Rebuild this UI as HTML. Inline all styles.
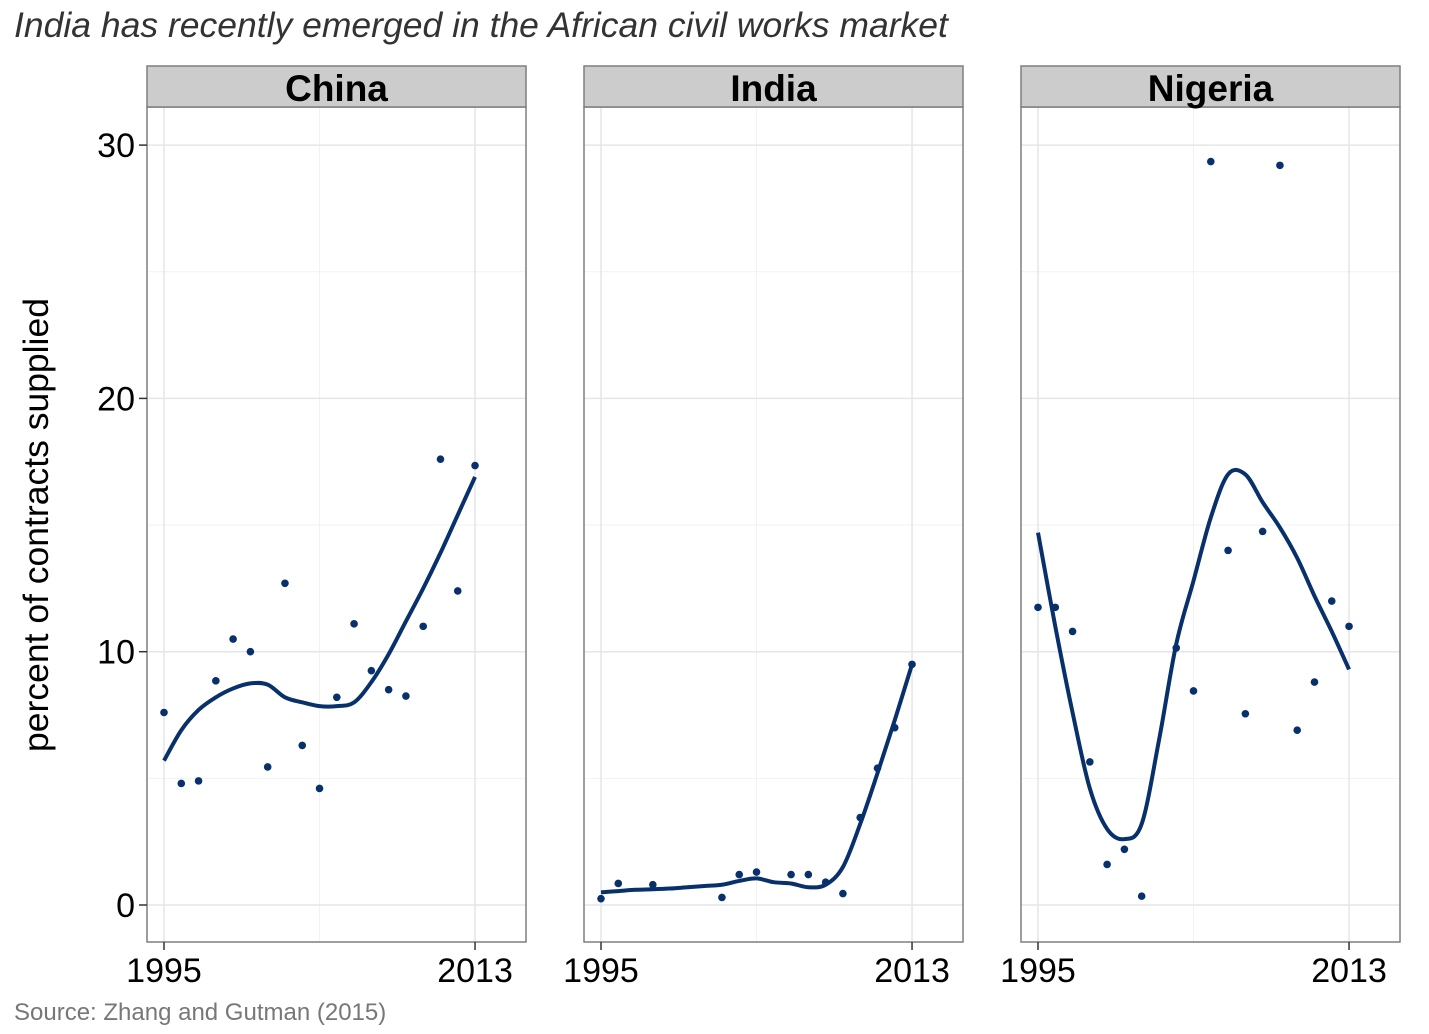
<!DOCTYPE html>
<html><head><meta charset="utf-8"><style>
body{margin:0;background:#fff;}
svg text{font-family:"Liberation Sans",Arial,sans-serif;}
</style></head><body>
<svg id="chart" width="1429" height="1029" xmlns="http://www.w3.org/2000/svg">
<text x="14" y="37" font-size="35.5" font-style="italic" fill="#333">India has recently emerged in the African civil works market</text>
<text x="14" y="1020" font-size="24" fill="#777">Source: Zhang and Gutman (2015)</text>
<text transform="translate(48,525) rotate(-90)" text-anchor="middle" font-size="35.5" fill="#000">percent of contracts supplied</text>
<g id="panels"></g>
</svg>
<script>
const panelNames = ["China","India","Nigeria"];
const chinaYears = [1995,1996,1997,1998,1999,2000,2001,2002,2003,2004,2005,2006,2007,2008,2009,2010,2011,2012,2013];
const chinaValues = [7.6,4.8,4.9,8.85,10.5,10.0,5.45,12.7,6.3,4.6,8.2,11.1,9.25,8.5,8.25,11.0,17.6,12.4,17.35];
const indiaYears = [1995,1996,1998,2002,2003,2004,2006,2007,2008,2009,2010,2011,2012,2013];
const indiaValues = [0.25,0.85,0.8,0.3,1.2,1.3,1.2,1.2,0.9,0.45,3.45,5.4,7.0,9.5];
const nigeriaYears = [1995,1996,1997,1998,1999,2000,2001,2003,2004,2005,2006,2007,2008,2009,2010,2011,2012,2013];
const nigeriaValues = [11.75,11.75,10.8,5.65,1.6,2.2,0.35,10.15,8.45,29.35,14.0,7.55,14.75,29.2,6.9,8.8,12.0,11.0];
const smoothYears = [1995,1996,1997,1998,1999,2000,2001,2002,2003,2004,2005,2006,2007,2008,2009,2010,2011,2012,2013];
const chinaSmooth = [5.7,6.9,7.7,8.2,8.55,8.75,8.7,8.2,8.0,7.85,7.85,8.0,8.8,9.9,11.2,12.5,13.9,15.4,16.9];
const indiaSmooth = [0.5,0.55,0.6,0.62,0.65,0.7,0.75,0.8,0.95,1.05,0.9,0.85,0.7,0.8,1.5,3.2,5.2,7.3,9.5];
const nigeriaSmooth = [14.7,11.0,7.6,4.6,3.0,2.6,3.2,6.5,10.3,12.8,15.3,17.0,17.0,15.9,14.9,13.7,12.2,10.8,9.3];
const yTicks = [0,10,20,30];
const xTickLabels = [1995,2013];

const pointSets=[[chinaYears,chinaValues],[indiaYears,indiaValues],[nigeriaYears,nigeriaValues]];
const smoothSets=[chinaSmooth,indiaSmooth,nigeriaSmooth];
const panelLefts=[147,584,1021];
const NS="http://www.w3.org/2000/svg";
const g=document.getElementById("panels");
function mk(tag,attrs,parent){const e=document.createElementNS(NS,tag);for(const k in attrs)e.setAttribute(k,attrs[k]);(parent||g).appendChild(e);return e;}
const yScale=v=>905-v*25.33;
const W=379, topY=107, bottomY=942;
panelNames.forEach((name,i)=>{
  const L=panelLefts[i];
  const xScale=yr=>L+17+(yr-1995)*17.28;
  const pg=mk("g",{});
  
  
  mk("rect",{x:L,y:topY,width:W,height:bottomY-topY,fill:"#fff"},pg);
  [5,15,25].forEach(v=>mk("line",{x1:L,x2:L+W,y1:yScale(v),y2:yScale(v),stroke:"#f2f2f2","stroke-width":1},pg));
  mk("line",{x1:xScale(2004),x2:xScale(2004),y1:topY,y2:bottomY,stroke:"#f2f2f2","stroke-width":1},pg);
  yTicks.forEach(v=>mk("line",{x1:L,x2:L+W,y1:yScale(v),y2:yScale(v),stroke:"#e6e6e6","stroke-width":1.5},pg));
  xTickLabels.forEach(yr=>mk("line",{x1:xScale(yr),x2:xScale(yr),y1:topY,y2:bottomY,stroke:"#e6e6e6","stroke-width":1.5},pg));
  mk("rect",{x:L,y:topY,width:W,height:bottomY-topY,fill:"none",stroke:"#7f7f7f","stroke-width":1.5},pg);
  const strip=mk("rect",{x:L,y:66,width:W,height:41,fill:"#cccccc",stroke:"#7f7f7f","stroke-width":1.5},pg);
  
  
  const st=mk("text",{x:L+W/2,y:101,"text-anchor":"middle","font-size":37,"font-weight":"bold",fill:"#000"},pg);
  st.textContent=name;
  
  
  xTickLabels.forEach(yr=>{
    mk("line",{x1:xScale(yr),x2:xScale(yr),y1:bottomY,y2:bottomY+8,stroke:"#333","stroke-width":1.5},pg);
    const t=mk("text",{x:xScale(yr),y:982,"text-anchor":"middle","font-size":34,fill:"#000"},pg);
    t.textContent=yr;
    
    
  });
  if(i===0){
    yTicks.forEach(v=>{
      mk("line",{x1:L-8,x2:L,y1:yScale(v),y2:yScale(v),stroke:"#333","stroke-width":1.5},pg);
      const t=mk("text",{x:L-12,y:yScale(v)+12,"text-anchor":"end","font-size":34,fill:"#000"},pg);
      t.textContent=v;
      
      
    });
  }
  const sm=smoothSets[i];
  const pts=smoothYears.map((yr,k)=>[xScale(yr),yScale(sm[k])]);
  let d="M"+pts[0][0]+","+pts[0][1];
  for(let k=0;k<pts.length-1;k++){
    const p0=pts[Math.max(0,k-1)],p1=pts[k],p2=pts[k+1],p3=pts[Math.min(pts.length-1,k+2)];
    const c1=[p1[0]+(p2[0]-p0[0])/6,p1[1]+(p2[1]-p0[1])/6];
    const c2=[p2[0]-(p3[0]-p1[0])/6,p2[1]-(p3[1]-p1[1])/6];
    d+=" C"+c1[0]+","+c1[1]+" "+c2[0]+","+c2[1]+" "+p2[0]+","+p2[1];
  }
  const path=mk("path",{d:d,fill:"none",stroke:"#08306b","stroke-width":4},pg);
  
  
  const [ys,vs]=pointSets[i];
  ys.forEach((yr,k)=>{
    const c=mk("circle",{cx:xScale(yr),cy:yScale(vs[k]),r:3.8,fill:"#08306b"},pg);
    
    
  });
});
</script>
</body></html>
